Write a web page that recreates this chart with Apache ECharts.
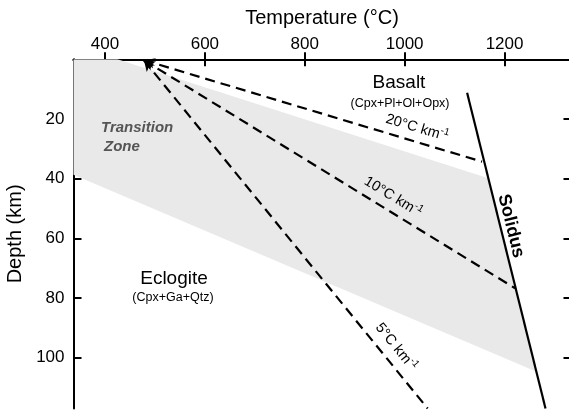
<!DOCTYPE html>
<html>
<head>
<meta charset="utf-8">
<script src="https://cdn.jsdelivr.net/npm/echarts@6/dist/echarts.min.js"></script>
<style>html,body{margin:0;padding:0;background:#fff}#c{width:569px;height:410px}</style>
</head>
<body>
<div id="c"></div>
<script>
// ---- data ----
const tempTicks = [400, 600, 800, 1000, 1200];
const depthTicks = [20, 40, 60, 80, 100];
const tempRange = [337, 1332];
const depthRange = [0, 117];
const geotherm20 = [[478, 0.3], [1155, 34.3]];
const geotherm10 = [[478, 0.3], [1221, 76.7]];
const geotherm5 = [[478, 0.3], [1046, 117]];
const solidus = [[1125, 11.2], [1282, 117]];
const transitionZone = [[337, 0], [425, 0], [1166, 39.8], [1263, 104.6], [337, 38.7]];

const FONT = '"Liberation Sans", Arial, Helvetica, sans-serif';
const chart = echarts.init(document.getElementById('c'), null, {renderer: 'canvas'});

function axisCommon(extra) {
  return Object.assign({
    type: 'value',
    axisLine: {show: true, lineStyle: {color: '#000', width: 2}},
    splitLine: {show: false}
  }, extra);
}

function geoLine(pts) {
  return {
    type: 'line',
    data: [],
    markLine: {
      silent: true,
      animation: false,
      symbol: ['arrow', 'none'],
      symbolSize: [8, 11],
      label: {show: false},
      lineStyle: {color: '#000', width: 2.2, type: [10, 6]},
      data: [[{coord: pts[0]}, {coord: pts[1]}]]
    }
  };
}

const plain = v => String(v);
const gradRich = {s: {fontSize: 10, fontFamily: FONT, verticalAlign: 'top', padding: [0, 0, 9, 0]}};

const option = {
  animation: false,
  grid: {left: 73.5, top: 59.3, width: 497, height: 349.2, containLabel: false, outerBoundsMode: 'none'},
  xAxis: [
    axisCommon({
      min: tempRange[0], max: tempRange[1], position: 'top',
      name: 'Temperature (°C)', nameLocation: 'middle', nameGap: 31,
      nameTextStyle: {fontFamily: FONT, fontSize: 20, color: '#000'},
      axisTick: {show: true, inside: true, length: 7, lineStyle: {color: '#000', width: 2}, customValues: tempTicks},
      axisLabel: {show: true, margin: 6, fontFamily: FONT, fontSize: 17, color: '#000', customValues: tempTicks, formatter: plain}
    }),
    axisCommon({
      min: tempRange[0], max: tempRange[1], position: 'bottom',
      axisTick: {show: true, inside: true, length: 7, lineStyle: {color: '#000', width: 2}, customValues: tempTicks},
      axisLabel: {show: false}
    })
  ],
  yAxis: [
    axisCommon({
      min: depthRange[0], max: depthRange[1], inverse: true, position: 'left',
      name: 'Depth (km)', nameLocation: 'middle', nameGap: 44,
      nameTextStyle: {fontFamily: FONT, fontSize: 20, color: '#000'},
      axisTick: {show: true, inside: true, length: 8, lineStyle: {color: '#000', width: 2}, customValues: depthTicks},
      axisLabel: {show: true, margin: 9, fontFamily: FONT, fontSize: 17, color: '#000', customValues: depthTicks, formatter: plain}
    }),
    axisCommon({
      min: depthRange[0], max: depthRange[1], inverse: true, position: 'right',
      axisTick: {show: true, inside: true, length: 7, lineStyle: {color: '#000', width: 2}, customValues: depthTicks},
      axisLabel: {show: false}
    })
  ],
  series: [
    {
      type: 'custom',
      z: 1,
      silent: true,
      clip: true,
      data: transitionZone,
      renderItem: function (params, api) {
        if (params.dataIndex !== 0) return null;
        const pts = transitionZone.map(p => api.coord(p));
        return {type: 'polygon', shape: {points: pts}, style: {fill: '#e9e9e9'}};
      }
    },
    geoLine(geotherm20),
    geoLine(geotherm10),
    geoLine(geotherm5),
    {
      type: 'line',
      data: solidus,
      symbol: 'none',
      silent: true,
      lineStyle: {color: '#000', width: 2.2}
    }
  ],
  graphic: {
    elements: [
      {type: 'text', z: 100, x: 399, y: 83, style: {text: 'Basalt', font: '19px ' + FONT, fill: '#000', align: 'center', verticalAlign: 'middle'}},
      {type: 'text', z: 100, x: 400, y: 104, style: {text: '(Cpx+Pl+Ol+Opx)', font: '12.5px ' + FONT, fill: '#000', align: 'center', verticalAlign: 'middle'}},
      {type: 'text', z: 100, x: 174, y: 279, style: {text: 'Eclogite', font: '19px ' + FONT, fill: '#000', align: 'center', verticalAlign: 'middle'}},
      {type: 'text', z: 100, x: 173, y: 298, style: {text: '(Cpx+Ga+Qtz)', font: '12.5px ' + FONT, fill: '#000', align: 'center', verticalAlign: 'middle'}},
      {type: 'text', z: 100, x: 101, y: 128, style: {text: 'Transition', font: 'italic bold 15px ' + FONT, fill: '#555', align: 'left', verticalAlign: 'middle'}},
      {type: 'text', z: 100, x: 104, y: 147, style: {text: 'Zone', font: 'italic bold 15px ' + FONT, fill: '#555', align: 'left', verticalAlign: 'middle'}},
      {type: 'text', z: 100, x: 417, y: 128, rotation: -16.8 * Math.PI / 180,
        style: {text: '20°C km{s|-1}', font: '14.5px ' + FONT, fill: '#000', align: 'center', verticalAlign: 'middle', rich: gradRich}},
      {type: 'text', z: 100, x: 393, y: 197, rotation: -31.6 * Math.PI / 180,
        style: {text: '10°C km{s|-1}', font: '14.5px ' + FONT, fill: '#000', align: 'center', verticalAlign: 'middle', rich: gradRich}},
      {type: 'text', z: 100, x: 396, y: 347, rotation: -50.8 * Math.PI / 180,
        style: {text: '5°C km{s|-1}', font: '14.5px ' + FONT, fill: '#000', align: 'center', verticalAlign: 'middle', rich: gradRich}},
      {type: 'text', z: 100, x: 511, y: 226, rotation: -76 * Math.PI / 180,
        style: {text: 'Solidus', font: 'bold 18px ' + FONT, fill: '#000', align: 'center', verticalAlign: 'middle'}}
    ]
  }
};
chart.setOption(option);
</script>
</body>
</html>
